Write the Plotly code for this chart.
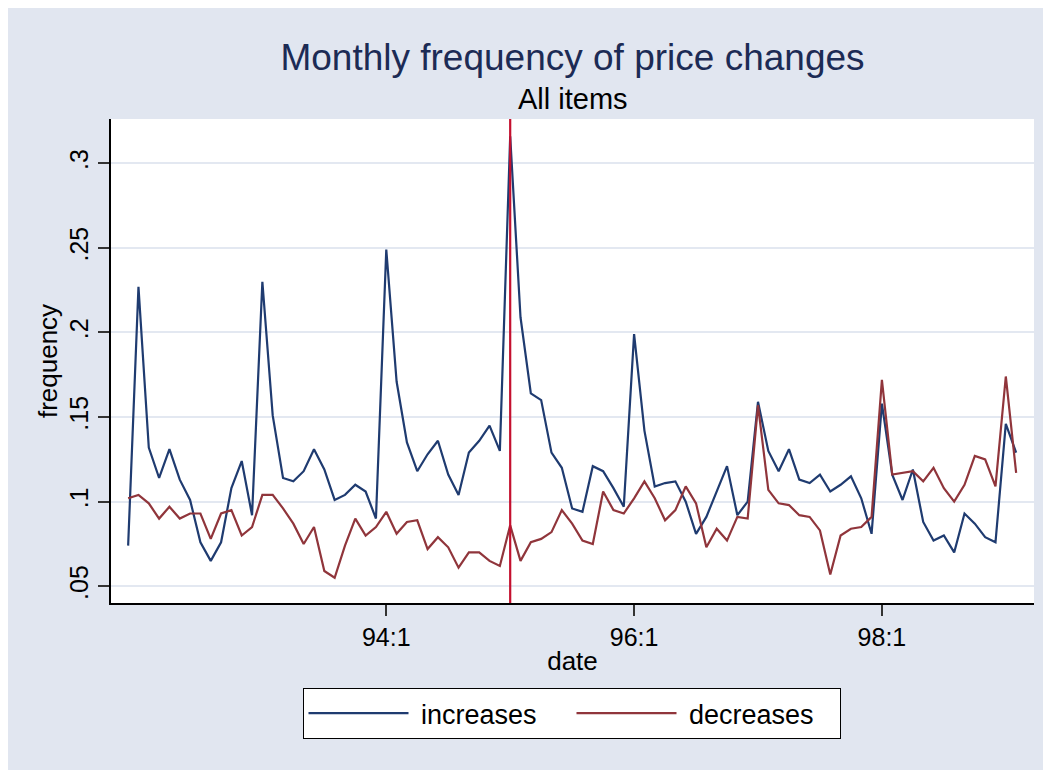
import plotly.graph_objects as go

# ---- data (monthly, 1991:12 .. 1999:2) ----
start_year = 1991
start_month = 12

increases = [
    0.074, 0.227, 0.132, 0.114, 0.131, 0.113, 0.101, 0.076, 0.065, 0.076,
    0.108, 0.124, 0.092, 0.230, 0.151, 0.114, 0.112, 0.118, 0.131, 0.119,
    0.101, 0.104, 0.110, 0.106, 0.090, 0.249, 0.171, 0.135, 0.118, 0.128,
    0.136, 0.116, 0.104, 0.129, 0.136, 0.145, 0.130, 0.316, 0.209, 0.164,
    0.160, 0.129, 0.120, 0.096, 0.094, 0.121, 0.118, 0.108, 0.097, 0.199,
    0.142, 0.109, 0.111, 0.112, 0.100, 0.081, 0.091, 0.106, 0.121, 0.092,
    0.100, 0.159, 0.130, 0.118, 0.131, 0.113, 0.111, 0.116, 0.106, 0.110,
    0.115, 0.102, 0.081, 0.158, 0.116, 0.101, 0.119, 0.088, 0.077, 0.080,
    0.070, 0.093, 0.087, 0.079, 0.076, 0.146, 0.129,
]

decreases = [
    0.102, 0.104, 0.099, 0.090, 0.097, 0.090, 0.093, 0.093, 0.078, 0.093,
    0.095, 0.080, 0.085, 0.104, 0.104, 0.096, 0.087, 0.075, 0.085, 0.059,
    0.055, 0.074, 0.090, 0.080, 0.085, 0.094, 0.081, 0.088, 0.089, 0.072,
    0.079, 0.073, 0.061, 0.070, 0.070, 0.065, 0.062, 0.086, 0.065, 0.076,
    0.078, 0.082, 0.095, 0.087, 0.077, 0.075, 0.106, 0.095, 0.093, 0.102,
    0.112, 0.102, 0.089, 0.095, 0.109, 0.099, 0.073, 0.084, 0.077, 0.091,
    0.090, 0.157, 0.107, 0.099, 0.098, 0.092, 0.091, 0.083, 0.057, 0.080,
    0.084, 0.085, 0.091, 0.172, 0.116, 0.117, 0.118, 0.112, 0.120, 0.108,
    0.100, 0.110, 0.127, 0.125, 0.109, 0.174, 0.117,
]

series_names = ["increases", "decreases"]
x_tick_labels = ["94:1", "96:1", "98:1"]
x_tick_months = [(1994, 1), (1996, 1), (1998, 1)]
y_tick_vals = [0.05, 0.1, 0.15, 0.2, 0.25, 0.3]
y_tick_labels = [".05", ".1", ".15", ".2", ".25", ".3"]
event_month = (1995, 1)


def mnum(year, month):
    return year * 12 + (month - 1)


x = [mnum(start_year, start_month) + i for i in range(len(increases))]
x_ticks = [mnum(y, m) for y, m in x_tick_months]
ref = mnum(1994, 1)

FONT = "Liberation Sans, Arial, Helvetica, sans-serif"
BG = "#E1E6F0"
BLUE = "#1F3B70"
RED = "#90353B"

# page body has an 8px margin; figure fills the rest of the window
W, H = 1043, 762
ML, MR, MT, MB = 103, 17, 111, 167
PW, PH = W - ML - MR, H - MT - MB

fig = go.Figure()
fig.add_trace(go.Scatter(x=x, y=increases, mode="lines", name="\u00a0" + series_names[0],
                         line=dict(color=BLUE, width=2.2)))
fig.add_trace(go.Scatter(x=x, y=decreases, mode="lines", name="\u00a0" + series_names[1],
                         line=dict(color=RED, width=2.2)))

shapes = [
    dict(type="line", xref="x", yref="paper", x0=mnum(*event_month), x1=mnum(*event_month),
         y0=0, y1=1, line=dict(color="#C4102F", width=2.2), layer="above"),
]

fig.update_layout(
    width=W, height=H, autosize=False,
    margin=dict(l=ML, r=MR, t=MT, b=MB, pad=0),
    paper_bgcolor=BG, plot_bgcolor="white",
    font=dict(family=FONT, color="black"),
    title=dict(text="Monthly frequency of price changes", x=(ML + PW / 2) / W, xanchor="center",
               y=1 - 49 / H, yanchor="middle",
               font=dict(family=FONT, size=37, color="#1C2B55")),
    annotations=[dict(text="All items", xref="paper", yref="paper", x=0.5, y=1 + (MT - 91) / PH,
                      xanchor="center", yanchor="middle", showarrow=False,
                      font=dict(family=FONT, size=29, color="black"))],
    shapes=shapes,
    showlegend=True,
    legend=dict(orientation="h", x=(563.5 - ML) / PW, xanchor="center", y=(595 - 705.5) / PH,
                yanchor="middle", bgcolor="white", bordercolor="black", borderwidth=1,
                font=dict(family=FONT, size=27, color="black"),
                itemwidth=100, entrywidth=153, entrywidthmode="pixels"),
)

fig.update_xaxes(
    range=[ref - 26.66, ref + 62.73], tickvals=x_ticks, ticktext=x_tick_labels,
    ticks="outside", ticklen=11, tickwidth=1.5, tickcolor="#333",
    showline=True, linecolor="black", linewidth=1.5, showgrid=False, zeroline=False,
    tickfont=dict(family=FONT, size=25, color="black"),
    title=dict(text="date", font=dict(family=FONT, size=26, color="black"), standoff=2),
)
fig.update_yaxes(
    range=[0.0401, 0.3262], tickvals=y_tick_vals, ticktext=y_tick_labels, tickangle=-90,
    ticks="outside", ticklen=11, tickwidth=1.5, tickcolor="#333",
    showline=True, linecolor="black", linewidth=1.5,
    showgrid=True, gridcolor="#E3E8F1", gridwidth=2, zeroline=False,
    tickfont=dict(family=FONT, size=25, color="black"),
    title=dict(text="frequency", font=dict(family=FONT, size=26, color="black"), standoff=0),
)

fig.write_html("out.html")
